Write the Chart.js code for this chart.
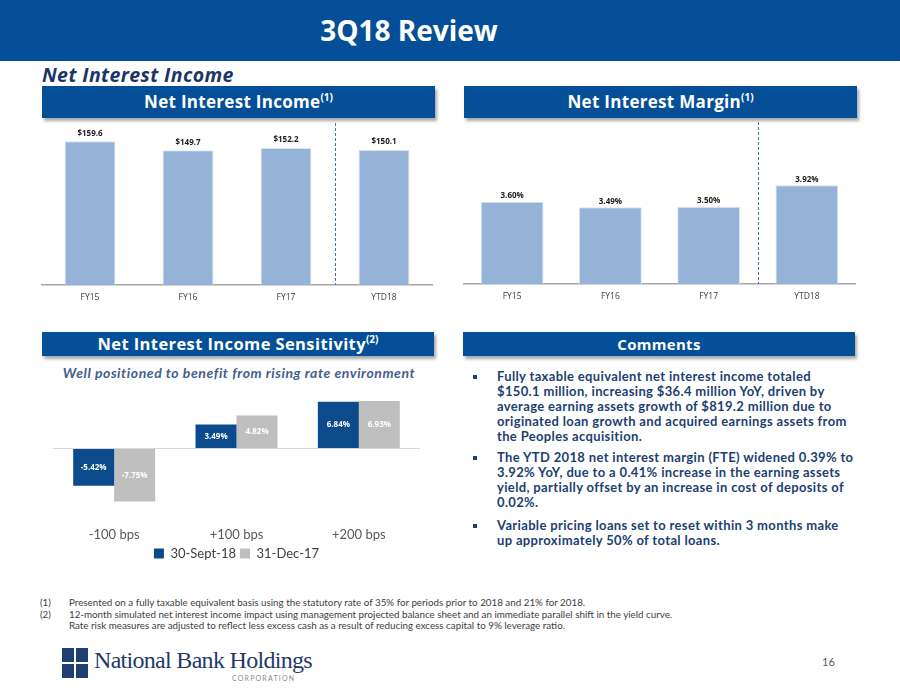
<!DOCTYPE html>
<html>
<head>
<meta charset="utf-8">
<script src="https://cdn.jsdelivr.net/npm/chart.js@4.4.0/dist/chart.umd.min.js"></script>
<style>
  body { margin:0; width:900px; height:695px; position:relative; background:#fff; overflow:hidden; font-family:Lato, sans-serif; }
  .abs { position:absolute; }
  .hdr { position:absolute; background:#044F97; color:#fff; font-family:'Open Sans'; font-weight:bold; text-align:center; box-shadow:2px 3px 3px rgba(0,0,0,0.35); }
  .hdr sup { font-size:10px; vertical-align:7px; line-height:0; letter-spacing:0; }
  .bul { position:absolute; left:497px; font-weight:bold; font-size:13px; letter-spacing:0.35px; line-height:15px; color:#1C3F72; white-space:nowrap; }
  .sq { position:absolute; left:473px; width:4px; height:4px; background:#1C3F72; }
  .foot { position:absolute; left:40px; top:597px; font-size:9.8px; line-height:11.5px; color:#404040; white-space:nowrap; }
  .foot span { display:inline-block; width:29px; }
  canvas { position:absolute; }
</style>
</head>
<body>

<div class="abs" style="left:0;top:0;width:900px;height:61px;background:#044F97;"></div>
<div class="abs" style="left:0;top:0;width:818px;height:61px;line-height:61px;text-align:center;color:#fff;font-family:'Open Sans';font-weight:bold;font-size:28px;">3Q18 Review</div>
<div class="abs" style="left:42px;top:61px;font-family:'Open Sans';font-weight:bold;font-style:italic;font-size:19.5px;letter-spacing:0.4px;color:#1A3566;">Net Interest Income</div>

<div class="hdr" style="left:42px;top:86px;width:393px;height:32px;line-height:32px;font-size:17px;letter-spacing:0.3px;">Net Interest Income<sup>(1)</sup></div>
<div class="hdr" style="left:464px;top:86px;width:393px;height:32px;line-height:32px;font-size:17px;letter-spacing:0.3px;">Net Interest Margin<sup>(1)</sup></div>

<canvas id="nii" width="392" height="200" style="left:41px;top:110px;"></canvas>
<canvas id="nim" width="393" height="200" style="left:463px;top:109px;"></canvas>

<div class="hdr" style="left:42px;top:332px;width:392px;height:24px;line-height:24px;font-size:16.5px;letter-spacing:0.4px;">Net Interest Income Sensitivity<sup>(2)</sup></div>
<div class="hdr" style="left:463px;top:332px;width:392px;height:24px;line-height:24px;font-size:15px;letter-spacing:0.3px;">Comments</div>

<div class="abs" style="left:42px;top:364px;width:394px;text-align:center;font-weight:bold;font-style:italic;font-size:14px;letter-spacing:0.55px;color:#41608D;">Well positioned to benefit from rising rate environment</div>
<canvas id="sens" width="367" height="200" style="left:53px;top:370px;"></canvas>

<div class="sq" style="top:375px;"></div>
<div class="bul" style="top:369px;">Fully taxable equivalent net interest income totaled<br>$150.1 million, increasing $36.4 million YoY, driven by<br>average earning assets growth of $819.2 million due to<br>originated loan growth and acquired earnings assets from<br>the Peoples acquisition.</div>
<div class="sq" style="top:456px;"></div>
<div class="bul" style="top:450px;">The YTD 2018 net interest margin (FTE) widened 0.39% to<br>3.92% YoY, due to a 0.41% increase in the earning assets<br>yield, partially offset by an increase in cost of deposits of<br>0.02%.</div>
<div class="sq" style="top:524px;"></div>
<div class="bul" style="top:518px;">Variable pricing loans set to reset within 3 months make<br>up approximately 50% of total loans.</div>

<div class="foot"><span>(1)</span>Presented on a fully taxable equivalent basis using the statutory rate of 35% for periods prior to 2018 and 21% for 2018.<br><span>(2)</span>12-month simulated net interest income impact using management projected balance sheet and an immediate parallel shift in the yield curve.<br><span></span>Rate risk measures are adjusted to reflect less excess cash as a result of reducing excess capital to 9% leverage ratio.</div>

<!-- logo -->
<div class="abs" style="left:62px;top:648px;width:12px;height:14px;background:#1F3F73;"></div>
<div class="abs" style="left:76px;top:648px;width:12px;height:14px;background:#1F3F73;"></div>
<div class="abs" style="left:62px;top:664px;width:12px;height:14px;background:#1F3F73;"></div>
<div class="abs" style="left:76px;top:664px;width:12px;height:14px;background:#1F3F73;"></div>
<div class="abs" style="left:94px;top:647px;font-family:'Liberation Serif';font-size:24px;letter-spacing:-0.7px;color:#1F3A68;">National Bank Holdings</div>
<div class="abs" style="left:232px;top:674px;font-size:7px;letter-spacing:1.2px;color:#8C8C8C;">CORPORATION</div>
<div class="abs" style="left:822px;top:655px;font-size:11px;color:#595959;">16</div>

<script>
var years = ["FY15", "FY16", "FY17", "YTD18"];
var niiValues = [159.6, 149.7, 152.2, 150.1];
var nimValues = [3.60, 3.49, 3.50, 3.92];

var shocks = ["-100 bps", "+100 bps", "+200 bps"];
var sept18 = [-5.42, 3.49, 6.84];
var dec17 = [-7.75, 4.82, 6.93];

// value labels drawn on top of / inside the bars
var barLabels = {
  id: 'barLabels',
  afterDatasetsDraw: function(chart, args, opts) {
    var ctx = chart.ctx;
    chart.data.datasets.forEach(function(ds, i) {
      var meta = chart.getDatasetMeta(i);
      meta.data.forEach(function(bar, j) {
        ctx.save();
        ctx.font = opts.font;
        ctx.fillStyle = opts.color;
        ctx.textAlign = 'center';
        ctx.textBaseline = 'middle';
        var y = opts.inside ? (bar.y + bar.base) / 2 : bar.y - opts.offset;
        ctx.fillText(opts.format(ds.data[j]), bar.x, y);
        ctx.restore();
      });
    });
  }
};

// dashed line between FY17 and YTD18
var divider = {
  id: 'divider',
  afterDraw: function(chart) {
    var x = chart.scales.x;
    var px = Math.round((x.getPixelForValue(2) + x.getPixelForValue(3)) / 2) + 0.5;
    var ctx = chart.ctx;
    ctx.save();
    ctx.strokeStyle = '#4A72A8';
    ctx.lineWidth = 1;
    ctx.setLineDash([3, 2]);
    ctx.beginPath();
    ctx.moveTo(px, chart.chartArea.top);
    ctx.lineTo(px, chart.chartArea.bottom);
    ctx.stroke();
    ctx.restore();
  }
};

function yearChart(id, values, min, max, pct, offset, fmt) {
  return new Chart(document.getElementById(id), {
    type: 'bar',
    data: {
      labels: years,
      datasets: [{
        data: values,
        backgroundColor: '#95B3D7',
        borderColor: '#DCE6F2',
        borderWidth: 1,
        categoryPercentage: 1,
        barPercentage: pct
      }]
    },
    options: {
      responsive: false,
      animation: false,
      layout: { padding: { top: 13 } },
      plugins: {
        legend: { display: false },
        tooltip: { enabled: false },
        barLabels: { font: 'bold 8px "Open Sans"', color: '#1a1a1a', offset: offset, format: fmt }
      },
      scales: {
        x: {
          grid: { display: false, drawTicks: false },
          border: { color: '#A6A6A6', width: 1.5 },
          ticks: { color: '#404040', font: { size: 8.5, family: 'Open Sans' }, padding: 7 },
          afterFit: function(s) { s.height = 25; }
        },
        y: { display: false, min: min, max: max }
      }
    },
    plugins: [barLabels, divider]
  });
}

yearChart('nii', niiValues, 0, 180, 0.52, 8, function(v) { return '$' + v.toFixed(1); });
yearChart('nim', nimValues, 2.0, 5.15, 0.64, 6, function(v) { return v.toFixed(2) + '%'; });

new Chart(document.getElementById('sens'), {
  type: 'bar',
  data: {
    labels: shocks,
    datasets: [
      { label: '30-Sept-18', data: sept18, backgroundColor: '#0B4A8B', categoryPercentage: 0.67, barPercentage: 1 },
      { label: '31-Dec-17', data: dec17, backgroundColor: '#BFBFBF', categoryPercentage: 0.67, barPercentage: 1 }
    ]
  },
  options: {
    responsive: false,
    animation: false,
    layout: { padding: { top: 10 } },
    plugins: {
      legend: {
        position: 'bottom',
        labels: { boxWidth: 10, boxHeight: 10, padding: 4, color: '#404040', font: { size: 13, family: 'Lato' } }
      },
      tooltip: { enabled: false },
      barLabels: { font: 'bold 8px "Open Sans"', color: '#ffffff', inside: true, format: function(v) { return v.toFixed(2) + '%'; } }
    },
    scales: {
      x: {
        grid: { display: false, drawTicks: false },
        border: { display: false },
        ticks: { color: '#595959', font: { size: 13, family: 'Lato' }, padding: 10 },
        afterFit: function(s) { s.height = 26; }
      },
      y: {
        min: -10, max: 10,
        ticks: { display: false, stepSize: 5 },
        border: { display: false },
        grid: { drawTicks: false, color: function(c) { return c.tick.value === 0 ? '#D9D9D9' : 'rgba(0,0,0,0)'; } },
        afterFit: function(s) { s.width = 0; }
      }
    }
  },
  plugins: [barLabels]
});
</script>
</body>
</html>
